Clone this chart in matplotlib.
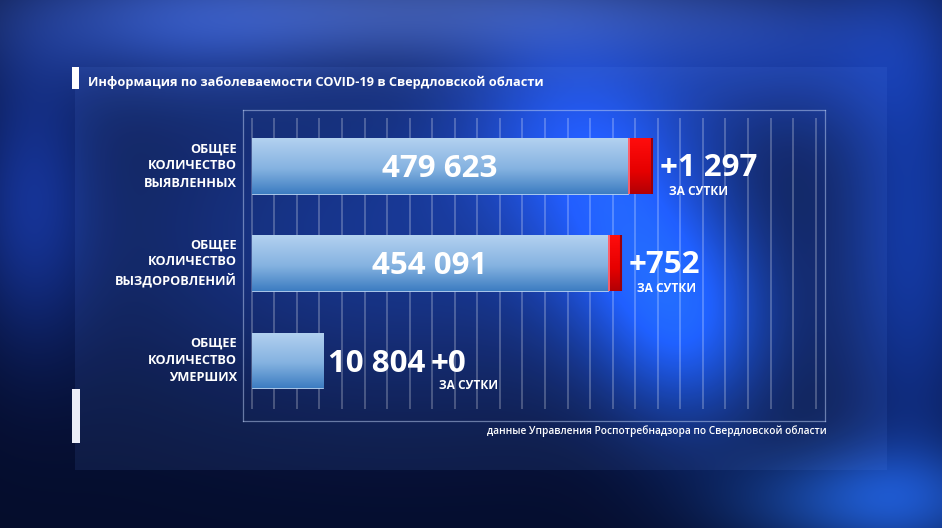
"""
plot.py — COVID-19 summary graphic for Sverdlovsk region (TV-style bar panel).

Output: out.png (942x528)
"""

import numpy as np
import matplotlib
matplotlib.use("Agg")
import matplotlib.pyplot as plt
from matplotlib.patches import Rectangle

plt.rcParams["font.family"] = ["Open Sans", "DejaVu Sans"]

# ----------------------------------------------------------------------- data
TITLE = "Информация по заболеваемости COVID-19 в Свердловской области"
SOURCE = "данные Управления Роспотребнадзора по Свердловской области"

categories = [
    "ОБЩЕЕ\nКОЛИЧЕСТВО\nВЫЯВЛЕННЫХ",
    "ОБЩЕЕ\nКОЛИЧЕСТВО\nВЫЗДОРОВЛЕНИЙ",
    "ОБЩЕЕ\nКОЛИЧЕСТВО\nУМЕРШИХ",
]
totals = [479623, 454091, 10804]
daily = [1297, 752, 0]
daily_note = "ЗА СУТКИ"

# lengths as drawn on screen (the graphic does not draw the small bar
# or the daily increments to scale)
shown_total = [479623, 454091, 90600]
shown_daily = [31000, 16600, 0]

W, H = 942, 528


def fmt(v):
    return f"{v:,}".replace(",", " ")


# ----------------------------------------------------------------- background
def make_background():
    yy, xx = np.mgrid[0:H, 0:W].astype(float)
    img = np.zeros((H, W, 3))
    img[:] = (0.02, 0.05, 0.17)

    glows = [
        # x, y, sx, sy, rgb, strength
        (430, 10, 250, 40, (0.40, 0.50, 0.75), 0.50),
        (160, 30, 130, 55, (0.15, 0.30, 0.70), 0.45),
        (400, 230, 220, 120, (0.06, 0.18, 0.50), 0.70),
        (560, 120, 80, 70, (0.10, 0.30, 0.85), 0.50),
        (630, 230, 70, 80, (0.08, 0.32, 0.90), 0.60),
        (690, 330, 60, 70, (0.08, 0.35, 0.92), 0.65),
        (910, 230, 55, 190, (0.10, 0.30, 0.80), 0.55),
        (30, 200, 45, 100, (0.10, 0.22, 0.60), 0.55),
        (870, 500, 100, 40, (0.15, 0.45, 0.90), 0.55),
        (780, 60, 110, 55, (0.12, 0.30, 0.80), 0.45),
    ]
    for gx, gy, sx, sy, rgb, s in glows:
        g = np.exp(-(((xx - gx) / sx) ** 2 + ((yy - gy) / sy) ** 2) / 2) * s
        img += g[..., None] * np.array(rgb)
    return np.clip(img, 0, 1)


def vertical_gradient(stops, n=64):
    pos = np.linspace(0, 1, n)
    cols = np.array([c for _, c in stops])
    ps = [p for p, _ in stops]
    g = np.stack([np.interp(pos, ps, cols[:, k]) for k in range(3)], axis=-1)
    return g[:, None, :]


BLUE_GRAD = vertical_gradient([
    (0.0, (0.70, 0.82, 0.94)),
    (0.55, (0.52, 0.70, 0.88)),
    (1.0, (0.24, 0.49, 0.76)),
])
RED_GRAD = vertical_gradient([
    (0.0, (1.00, 0.05, 0.05)),
    (0.6, (0.90, 0.00, 0.00)),
    (1.0, (0.70, 0.00, 0.02)),
])


def px_axes(fig, x0, y0, x1, y1):
    return fig.add_axes([x0 / W, 1 - y1 / H, (x1 - x0) / W, (y1 - y0) / H])


# ----------------------------------------------------------------------- plot
fig = plt.figure(figsize=(W / 100, H / 100), dpi=100)

bg = fig.add_axes([0, 0, 1, 1])
bg.imshow(make_background(), extent=[0, W, H, 0], aspect="auto")
bg.set_xlim(0, W)
bg.set_ylim(H, 0)
bg.axis("off")

# translucent panel + white accents
bg.add_patch(Rectangle((75, 67), 812, 403, facecolor=(0.40, 0.58, 1.0),
                       alpha=0.10, edgecolor="none"))
bg.add_patch(Rectangle((72, 67), 7, 22, facecolor="white", edgecolor="none"))
bg.add_patch(Rectangle((72, 389), 8, 54, facecolor=(0.92, 0.93, 0.97),
                       edgecolor="none"))

bg.text(88, 86, TITLE, color="white", fontsize=9.2, fontweight="bold",
        ha="left", va="baseline")
bg.text(827, 434, SOURCE, color="white", fontsize=7.3, fontweight="semibold",
        ha="right", va="baseline")

# chart box: 1 data unit ~ 1/1274 px, bars start at 0
ax = px_axes(fig, 243, 110, 825, 421)
ax.patch.set_alpha(0)
ax.set_xlim(-11100, 730300)
ax.set_ylim(2.625, -0.574)
for s in ax.spines.values():
    s.set_color((0.75, 0.82, 0.96))
    s.set_alpha(0.5)
    s.set_linewidth(0.9)
ax.set_xticks([])
ax.set_yticks([])

grid_x = np.arange(26) * 28740
ax.vlines(grid_x, 0.04, 0.974, transform=ax.get_xaxis_transform(),
          color="white", alpha=0.28, linewidth=1.2, zorder=1)

ypos = np.arange(len(categories))
bar_h = 0.57

blue_bars = ax.barh(ypos, shown_total, height=bar_h, color=(0.5, 0.7, 0.9),
                    edgecolor=(0.72, 0.83, 0.95), linewidth=0.6, zorder=2)
red_bars = ax.barh(ypos, shown_daily, left=shown_total, height=bar_h,
                   color=(0.9, 0, 0), edgecolor="none", zorder=2)

for bar in blue_bars:
    x0, y0 = bar.get_x(), bar.get_y()
    im = ax.imshow(BLUE_GRAD, extent=[x0, x0 + bar.get_width(),
                                      y0 + bar_h, y0],
                   aspect="auto", zorder=3)
    im.set_clip_path(bar)
for bar in red_bars:
    if bar.get_width() <= 0:
        continue
    x0, y0 = bar.get_x(), bar.get_y()
    im = ax.imshow(RED_GRAD, extent=[x0, x0 + bar.get_width(),
                                     y0 + bar_h, y0],
                   aspect="auto", zorder=3)
    im.set_clip_path(bar)
    # lighter left edge, darker right edge
    ax.vlines([x0 + 700], y0, y0 + bar_h, color=(1, 0.45, 0.5),
              linewidth=1.2, zorder=4)
    ax.vlines([x0 + bar.get_width() - 900], y0, y0 + bar_h,
              color=(0.6, 0, 0.05), linewidth=1.5, zorder=4)

ax.set_xlim(-11100, 730300)
ax.set_ylim(2.625, -0.574)

big = dict(color="white", fontsize=22.5, fontweight="bold", va="baseline",
           textcoords="offset pixels", annotation_clip=False, zorder=5)

for i, y in enumerate(ypos):
    # category label, right-aligned just left of the box
    ax.annotate(categories[i], xy=(0, y), xycoords=("axes fraction", "data"),
                xytext=(-6, 0), textcoords="offset pixels", ha="right",
                va="center", multialignment="right", color="white",
                fontsize=9.2, fontweight="bold", linespacing=1.42,
                annotation_clip=False)

    end = shown_total[i] + shown_daily[i]
    if shown_total[i] > 200000:
        ax.annotate(fmt(totals[i]), xy=(shown_total[i] / 2, y),
                    xytext=(0, -11), ha="center", **big)
        d = ax.annotate(f"+{fmt(daily[i])}", xy=(end, y), xytext=(7, -10),
                        ha="left", **big)
    else:
        v = ax.annotate(fmt(totals[i]), xy=(end, y), xytext=(5, -12),
                        ha="left", **big)
        d = ax.annotate(f"+{fmt(daily[i])}", xy=(1, y),
                        xycoords=(v, "data"), xytext=(5, -12), ha="left",
                        **big)

    ax.annotate(daily_note, xy=(0, y), xycoords=(d, "data"),
                xytext=(9, -29), textcoords="offset pixels", ha="left",
                va="baseline", color="white", fontsize=8.6,
                fontweight="bold", annotation_clip=False, zorder=5)

fig.savefig("out.png", dpi=100)
plt.close(fig)
